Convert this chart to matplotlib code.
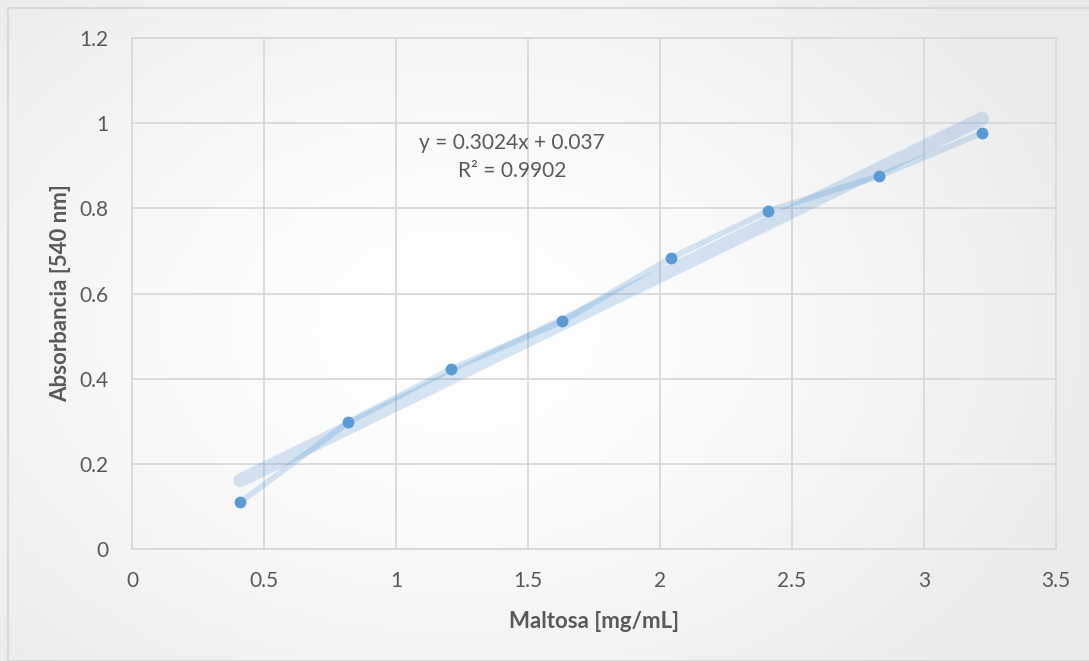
import numpy as np
import matplotlib
matplotlib.use("Agg")
import matplotlib.pyplot as plt
from matplotlib.patches import Rectangle

plt.rcParams['font.family'] = ['Lato', 'DejaVu Sans']

maltosa = [0.41, 0.82, 1.21, 1.63, 2.04, 2.41, 2.83, 3.22]
absorbancia = [0.110, 0.298, 0.423, 0.535, 0.683, 0.794, 0.876, 0.977]
slope = 0.3024
intercept = 0.037
r2 = 0.9902
xticks = [0, 0.5, 1, 1.5, 2, 2.5, 3, 3.5]
yticks = [0, 0.2, 0.4, 0.6, 0.8, 1.0, 1.2]

W, H = 1089, 661
fig = plt.figure(figsize=(W / 100, H / 100), dpi=100)

# background gradient
bg = fig.add_axes([0, 0, 1, 1], zorder=-10)
xx, yy = np.meshgrid(np.linspace(0, 1, 300), np.linspace(0, 1, 200))
d = np.sqrt(((xx - 0.42) / 1.0) ** 2 + ((yy - 0.5) / 1.2) ** 2)
val = 1.0 - 0.075 * np.clip(d / 0.6, 0, 1) ** 1.5
img = np.dstack([val, val, val])
bg.imshow(img, extent=[0, 1, 0, 1], aspect='auto', origin='lower')
bg.set_xlim(0, 1)
bg.set_ylim(0, 1)
bg.axis('off')
fig.patches.append(Rectangle((8 / W, 0), 1, 1 - 8 / H, transform=fig.transFigure,
                             fill=False, edgecolor='#d9d9d9', linewidth=1.5, zorder=-5))

ax = fig.add_axes([132 / W, 1 - 549 / H, (1056 - 132) / W, (549 - 38) / H])
ax.patch.set_alpha(0)

grid_c = '#d9d9d9'
ax.set_xlim(0, 3.5)
ax.set_ylim(0, 1.2)
ax.set_xticks(xticks)
ax.set_yticks(yticks)
ax.set_xticklabels([f"{t:g}" for t in xticks])
ax.set_yticklabels([f"{t:g}" for t in yticks])
ax.grid(True, color=grid_c, linewidth=1.3)
for s in ax.spines.values():
    s.set_color(grid_c)
    s.set_linewidth(1.3)
ax.tick_params(axis='x', length=0, labelsize=15, labelcolor='#595959', pad=16)
ax.tick_params(axis='y', length=0, labelsize=15, labelcolor='#595959', pad=17)
ax.set_axisbelow(True)

blue = '#5b9bd5'
# trendline
xt = np.array([min(maltosa), max(maltosa)])
ax.plot(xt, slope * xt + intercept, color=blue, alpha=0.25, linewidth=10,
        solid_capstyle='round', zorder=2)
# connecting line
ax.plot(maltosa, absorbancia, color=blue, alpha=0.25, linewidth=4.3,
        solid_capstyle='round', solid_joinstyle='round', zorder=3)
# markers
ax.plot(maltosa, absorbancia, linestyle='none', marker='o', markersize=8.5,
        color=blue, markeredgewidth=0, zorder=4)

ax.text(1.44, 0.953, f"y = {slope}x + {intercept}", ha='center', va='center',
        fontsize=15, color='#595959')
ax.text(1.44, 0.888, f"R² = {r2}", ha='center', va='center',
        fontsize=15, color='#595959')

ax.set_xlabel("Maltosa [mg/mL]", fontsize=16, fontweight='bold', color='#595959', labelpad=14)
ax.set_ylabel("Absorbancia [540 nm]", fontsize=16, fontweight='bold', color='#595959', labelpad=6)

fig.savefig("out.png", dpi=100)
